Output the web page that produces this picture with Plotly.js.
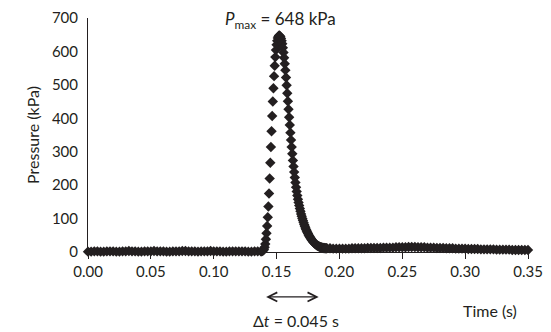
<!DOCTYPE html>
<html><head><meta charset="utf-8">
<script src="https://cdn.plot.ly/plotly-3.0.1.min.js"></script>
<style>html,body{margin:0;padding:0;background:#fff}#chart{width:551px;height:332px}</style>
</head><body><div id="chart"></div>
<script>
// Baseline before the pulse (time s, pressure kPa)
const baseTime = [0.0000,0.0025,0.0050,0.0075,0.0100,0.0125,0.0150,0.0175,0.0200,0.0225,0.0250,0.0275,0.0300,0.0325,0.0350,0.0375,0.0400,0.0425,0.0450,0.0475,0.0500,0.0525,0.0550,0.0575,0.0600,0.0625,0.0650,0.0675,0.0700,0.0725,0.0750,0.0775,0.0800,0.0825,0.0850,0.0875,0.0900,0.0925,0.0950,0.0975,0.1000,0.1025,0.1050,0.1075,0.1100,0.1125,0.1150,0.1175,0.1200,0.1225,0.1250,0.1275,0.1300,0.1325,0.1350,0.1375];
const basePressure = [1,1,2,2,1,1,2,2,2,1,1,2,2,3,2,2,1,1,2,2,2,3,2,2,2,1,1,2,2,2,3,3,2,2,2,1,2,2,2,3,2,2,2,1,1,2,2,2,2,2,2,1,1,2,2,2];

// Pressure pulse
const pulseTime = [0.1380,0.1385,0.1390,0.1395,0.1400,0.1405,0.1410,0.1415,0.1420,0.1425,0.1430,0.1435,0.1440,0.1445,0.1450,0.1455,0.1460,0.1465,0.1470,0.1475,0.1480,0.1485,0.1490,0.1495,0.1500,0.1505,0.1510,0.1515,0.1520,
0.1525,0.1530,0.1535,0.1540,0.1545,0.1550,0.1555,0.1560,0.1565,0.1570,0.1575,0.1580,0.1585,0.1590,0.1595,0.1600,0.1605,0.1610,0.1615,0.1620,0.1625,0.1630,0.1635,0.1640,0.1645,0.1650,0.1655,0.1660,0.1665,0.1670,0.1675,0.1680,0.1685,0.1690,0.1695,0.1700,0.1705,0.1710,0.1715,0.1720,0.1725,0.1730,0.1735,0.1740,0.1745,0.1750,0.1755,0.1760,0.1765,0.1770,0.1775,0.1780,0.1785,0.1790,0.1795,0.1800,0.1805,0.1810,0.1815,0.1820,0.1825,0.1830,0.1835,0.1840,0.1845,0.1850,0.1855,0.1860,0.1865,0.1870,0.1875,0.1880,0.1885,0.1890,0.1895,0.1900];
const pulsePressure = [2,3,4,5,8,14,24,38,56,78,104,136,175,220,267,314,361,407,450,490,526,557,583,604,620,632,640,645,648,
647,644,639,632,623,611,597,581,563,544,522,499,475,451,427,403,380,357,335,314,294,274,256,239,223,208,194,181,169,158,148,139,130,122,114,107,100,94,88,82,77,72,67,63,59,55,51,48,45,42,39,36,34,31,29,27,25,23,22,20,19,18,17,16,15,14,14,13,13,12,12,12,11,11,11,11];

// Tail after the pulse
const tailTime = [0.1925,0.1950,0.1975,0.2000,0.2025,0.2050,0.2075,0.2100,0.2125,0.2150,0.2175,0.2200,0.2225,0.2250,0.2275,0.2300,0.2325,0.2350,0.2375,0.2400,0.2425,0.2450,0.2475,0.2500,0.2525,0.2550,0.2575,0.2600,0.2625,0.2650,0.2675,0.2700,0.2725,0.2750,0.2775,0.2800,0.2825,0.2850,0.2875,0.2900,0.2925,0.2950,0.2975,0.3000,0.3025,0.3050,0.3075,0.3100,0.3125,0.3150,0.3175,0.3200,0.3225,0.3250,0.3275,0.3300,0.3325,0.3350,0.3375,0.3400,0.3425,0.3450,0.3475,0.3500];
const tailPressure = [11,10,10,10,10,10,10,11,11,11,11,11,12,12,12,12,12,13,13,13,13,14,14,14,14,15,15,15,14,14,14,13,13,13,12,12,12,11,11,11,10,10,10,10,9,9,9,9,8,8,8,8,8,7,7,7,7,7,6,6,6,6,6,6];

const xTickVals = [0, 0.05, 0.10, 0.15, 0.20, 0.25, 0.30, 0.35];
const yTickVals = [0, 100, 200, 300, 400, 500, 600, 700];
const peakLabel = '<i>P</i><sub>max</sub> = 648 kPa';
const peakTime = 0.1528;
const deltaStart = 0.1405, deltaEnd = 0.1835;
const deltaLabel = '\u0394<i>t</i> = 0.045 s';

const ink = '#231f20';
const font = 'Lato, "Open Sans", sans-serif';

const trace = {
  x: baseTime.concat(pulseTime, tailTime),
  y: basePressure.concat(pulsePressure, tailPressure),
  type: 'scatter', mode: 'markers', cliponaxis: false,
  marker: {symbol: 'diamond', size: 8, color: ink, line: {width: 0}},
  hoverinfo: 'skip'
};

const layout = {
  width: 551, height: 332,
  margin: {l: 88, r: 23, t: 18, b: 80, pad: 0},
  paper_bgcolor: '#fff', plot_bgcolor: '#fff',
  showlegend: false,
  font: {family: font, size: 15, color: ink},
  xaxis: {
    range: [0, 0.35], tickvals: xTickVals, tickformat: '.2f',
    showgrid: false, zeroline: false, showline: true, linecolor: ink, linewidth: 1,
    ticks: 'outside', ticklen: 6, tickcolor: ink, tickwidth: 1,
    tickfont: {family: font, size: 15, color: ink}
  },
  yaxis: {
    range: [0, 700], tickvals: yTickVals,
    showgrid: false, zeroline: false, showline: true, linecolor: ink, linewidth: 1,
    ticks: '', ticklabelstandoff: 6,
    tickfont: {family: font, size: 15, color: ink},
    title: {text: 'Pressure (kPa)', font: {family: font, size: 16, color: ink}, standoff: 8}
  },
  annotations: [
    {text: peakLabel, x: peakTime, xref: 'x', y: 0.99, yref: 'paper', yanchor: 'middle', xanchor: 'center',
     showarrow: false, font: {family: font, size: 17, color: ink}},
    {text: '', x: deltaEnd, xref: 'x', y: -0.192, yref: 'paper', ax: deltaStart, axref: 'x', ay: 0, ayref: 'pixel',
     showarrow: true, arrowside: 'end+start', arrowhead: 5, arrowsize: 1.5, arrowwidth: 1.2, arrowcolor: ink, standoff: 0, startstandoff: 0},
    {text: deltaLabel, x: 0.1655, xref: 'x', y: -0.292, yref: 'paper', yanchor: 'middle', xanchor: 'center',
     showarrow: false, font: {family: font, size: 16, color: ink}},
    {text: 'Time (s)', x: 0.3198, xref: 'x', y: -0.25, yref: 'paper', yanchor: 'middle', xanchor: 'center',
     showarrow: false, font: {family: font, size: 16, color: ink}}
  ]
};

Plotly.newPlot('chart', [trace], layout, {displayModeBar: false, staticPlot: true});
</script></body></html>
